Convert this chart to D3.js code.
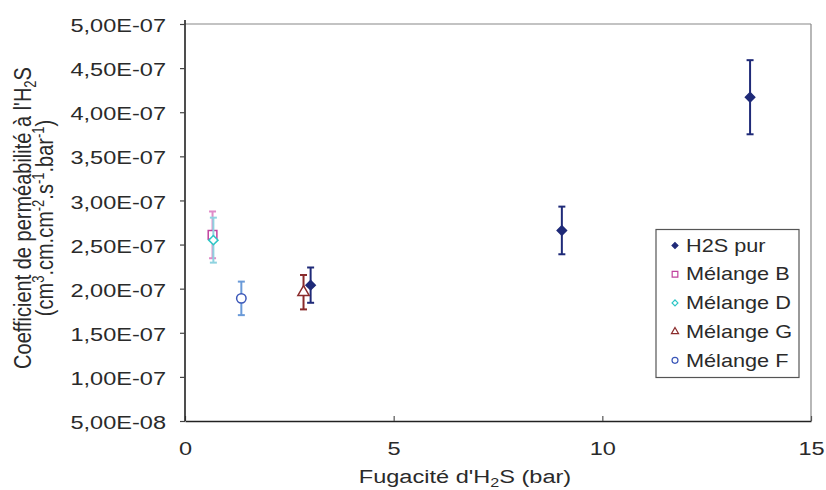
<!DOCTYPE html>
<html><head><meta charset="utf-8">
<script src="https://cdn.jsdelivr.net/npm/d3@7"></script>
<style>body{margin:0;background:#fff}text{font-family:"Liberation Sans",Arial,sans-serif;fill:#2a2a2a}</style>
</head><body><svg id="c" width="826" height="490"></svg>
<script>
// Data
const seriesNames = ["H2S pur","Mélange B","Mélange D","Mélange G","Mélange F"];
const h2sX = [3.01, 9.03, 13.54];
const h2sY = [2.04e-7, 2.66e-7, 4.17e-7];
const h2sErr = [0.20e-7, 0.27e-7, 0.42e-7];
const melBX = [0.66], melBY = [2.61e-7], melBErr = [0.265e-7];
const melDX = [0.68], melDY = [2.55e-7], melDErr = [0.255e-7];
const melGX = [2.84], melGY = [1.96e-7], melGErr = [0.195e-7];
const melFX = [1.35], melFY = [1.89e-7], melFErr = [0.19e-7];
const xTicks = [0,5,10,15];
const yTicks = [5e-8,1e-7,1.5e-7,2e-7,2.5e-7,3e-7,3.5e-7,4e-7,4.5e-7,5e-7];

const SX = 1.24;
const svg = d3.select("#c");
const x = d3.scaleLinear([0,15],[185,811]);
const y = d3.scaleLinear([5e-8,5e-7],[421,24]);

function fmt(v){
  const [m,e] = v.toExponential(2).split('e');
  const n = parseInt(e);
  return m.replace('.',',') + 'E' + (n<0?'-':'+') + String(Math.abs(n)).padStart(2,'0');
}
function stretch(sel){
  sel.each(function(){
    const t=d3.select(this); const tx=+t.attr("x")||0, ty=+t.attr("y")||0;
    t.attr("transform",`translate(${tx},${ty}) scale(${SX},1) translate(${-tx},${-ty})`);
  });
}

// frame
svg.append("line").attr("x1",185).attr("x2",811).attr("y1",24).attr("y2",24).attr("stroke","#888").attr("stroke-width",1.2);
svg.append("line").attr("x1",811).attr("x2",811).attr("y1",24).attr("y2",421).attr("stroke","#888").attr("stroke-width",1.2);

// axes
const gx = svg.append("g").attr("transform","translate(0,421)")
  .call(d3.axisBottom(x).tickValues(xTicks).tickSizeInner(-5).tickSizeOuter(0).tickFormat(d3.format("d")));
gx.select(".domain").attr("stroke","#222").attr("stroke-width",1.6);
gx.selectAll(".tick line").attr("stroke","#555").attr("stroke-width",1.2);
gx.selectAll(".tick text").attr("x",0).attr("y",34.5).attr("dy",0).attr("font-size",19).attr("fill","#2a2a2a")
  .attr("transform",`translate(0,34.5) scale(${SX},1) translate(0,-34.5)`);
const gy = svg.append("g").attr("transform","translate(185,0)")
  .call(d3.axisLeft(y).tickValues(yTicks).tickSizeInner(5).tickSizeOuter(0).tickFormat(fmt));
gy.select(".domain").attr("stroke","#222").attr("stroke-width",1.6).attr("d","M0,20V421");
gy.selectAll(".tick line").attr("stroke","#444").attr("stroke-width",1.2);
gy.selectAll(".tick text").attr("x",0).attr("dy","0.35em").attr("font-size",19).attr("fill","#2a2a2a")
  .attr("transform",`translate(-19,1) scale(${SX},1)`);
svg.selectAll(".domain").attr("fill","none");

// titles
const xt = svg.append("text").attr("x",465).attr("y",483).attr("text-anchor","middle").attr("font-size",19);
xt.append("tspan").text("Fugacité d'H");
xt.append("tspan").attr("font-size",13).attr("dy",4).text("2");
xt.append("tspan").attr("dy",-4).text("S (bar)");
xt.attr("transform",`translate(465,0) scale(${SX},1) translate(-465,0)`);

function ytitle(cx, build){
  const t = svg.append("text").attr("text-anchor","middle").attr("font-size",20)
    .attr("transform",`translate(${cx},218) scale(${SX},1) rotate(-90)`);
  build(t);
}
ytitle(31, t=>{
  t.append("tspan").text("Coefficient de perméabilité à l'H");
  t.append("tspan").attr("font-size",13).attr("dy",4).text("2");
  t.append("tspan").attr("dy",-4).text("S");
});
ytitle(53, t=>{
  t.append("tspan").text("(cm");
  t.append("tspan").attr("font-size",13).attr("dy",-7).text("3");
  t.append("tspan").attr("dy",7).text(".cm.cm");
  t.append("tspan").attr("font-size",13).attr("dy",-7).text("-2");
  t.append("tspan").attr("dy",7).text(".s");
  t.append("tspan").attr("font-size",13).attr("dy",-7).text("-1");
  t.append("tspan").attr("dy",7).text(".bar");
  t.append("tspan").attr("font-size",13).attr("dy",-7).text("-1");
  t.append("tspan").attr("dy",7).text(")");
});

// series
const series = [
  {xs:h2sX, ys:h2sY, es:h2sErr, ec:"#1f2a78", mc:"#1f2a78", sym:d3.symbolDiamond2, size:55, fill:true},
  {xs:melBX, ys:melBY, es:melBErr, ec:"#e08bc8", mc:"#c0439f", sym:d3.symbolSquare, size:75, fill:false},
  {xs:melGX, ys:melGY, es:melGErr, ec:"#8a2b2b", mc:"#8a2b2b", sym:d3.symbolTriangle, size:55, fill:false},
  {xs:melDX, ys:melDY, es:melDErr, ec:"#8fd3e0", mc:"#2ec6c6", sym:d3.symbolDiamond2, size:55, fill:false},
  {xs:melFX, ys:melFY, es:melFErr, ec:"#6a9ad8", mc:"#3a56b8", sym:d3.symbolCircle, size:70, fill:false},
];
series.forEach(s=>{
  const g = svg.append("g");
  s.xs.forEach((xv,i)=>{
    const cx=x(xv), yt=y(s.ys[i]+s.es[i]), yb=y(s.ys[i]-s.es[i]);
    g.append("line").attr("x1",cx).attr("x2",cx).attr("y1",yt).attr("y2",yb).attr("stroke",s.ec).attr("stroke-width",2);
    [yt,yb].forEach(yy=>g.append("line").attr("x1",cx-3.5).attr("x2",cx+3.5).attr("y1",yy).attr("y2",yy).attr("stroke",s.ec).attr("stroke-width",2));
    g.append("path").attr("d",d3.symbol(s.sym,s.size)()).attr("transform",`translate(${cx},${y(s.ys[i])})`)
      .attr("fill",s.fill?s.mc:"#fff").attr("stroke",s.mc).attr("stroke-width",1.5);
  });
});

// legend
const leg = svg.append("g");
leg.append("rect").attr("x",656).attr("y",229.5).attr("width",143).attr("height",148).attr("fill","#fff").attr("stroke","#555").attr("stroke-width",1.2);
const legSpec = [
  {sym:d3.symbolDiamond2,size:22,c:"#1f2a78",fill:true},
  {sym:d3.symbolSquare,size:32,c:"#c0439f",fill:false},
  {sym:d3.symbolDiamond2,size:22,c:"#2ec6c6",fill:false},
  {sym:d3.symbolTriangle,size:22,c:"#8a2b2b",fill:false},
  {sym:d3.symbolCircle,size:28,c:"#3a56b8",fill:false},
];
seriesNames.forEach((n,i)=>{
  const yy = 245.5 + i*28.7;
  leg.append("path").attr("d",d3.symbol(legSpec[i].sym,legSpec[i].size)()).attr("transform",`translate(675,${yy})`)
    .attr("fill",legSpec[i].fill?legSpec[i].c:"#fff").attr("stroke",legSpec[i].c).attr("stroke-width",1.2);
  const t = leg.append("text").attr("x",686).attr("y",yy).attr("dy","0.36em").attr("font-size",17.5).text(n);
  stretch(t);
});
</script></body></html>
